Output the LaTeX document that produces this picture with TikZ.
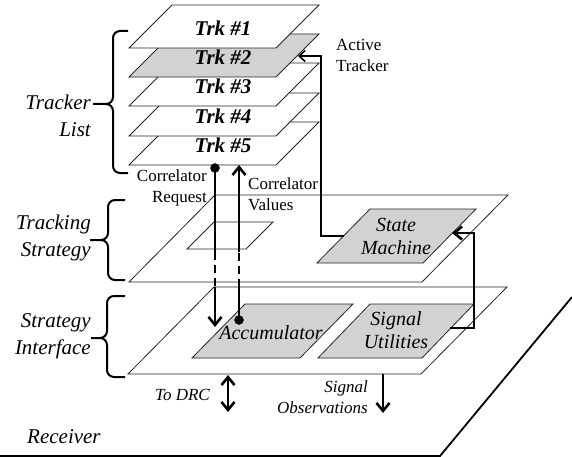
\documentclass[tikz,border=0pt]{standalone}
\usepackage{fontspec}
\setmainfont{Liberation Serif}
\usepackage{tikz}
\usetikzlibrary{positioning}
\usetikzlibrary{arrows.meta}

\begin{document}
\begin{tikzpicture}[x=1pt,y=-1pt,
	plane/.style={draw=black!85,line width=0.8pt,fill=white},
	block/.style={plane,fill=gray!35},
	brace/.style={line width=2pt,rounded corners=7pt},
	bus/.style={line width=2.6pt,line join=miter,-{Straight Barb[length=8pt,width=13pt]}},
	link/.style={line width=1.6pt,-{Straight Barb[length=6pt,width=11pt]}},
	gap/.style={line width=1.6pt,dash pattern=on 8pt off 5pt},
	trk/.style={font=\fontsize{21}{24}\selectfont\bfseries\itshape},
	boxlabel/.style={font=\fontsize{20}{23}\selectfont\itshape,align=center,inner sep=0pt},
	sidelabel/.style={font=\fontsize{21}{27}\selectfont\itshape,align=right,anchor=east,inner sep=0pt},
	note/.style={font=\fontsize{17}{21}\selectfont,inner sep=0pt},
	lowlabel/.style={font=\fontsize{17}{21}\selectfont\itshape,inner sep=0pt}]
	\useasboundingbox (0,0) rectangle (572,457);
	% Receiver %
	\node (receiver) [sidelabel,anchor=west] at (27,437) {Receiver};
	\draw [line width=1.8pt] (0,456) -- (440,456) -- (572,297);
	% Strategy Interface %
	\filldraw [plane] (128,374) -- ++(293,0) -- ++(86,-87) -- ++(-293,0) -- cycle;
	\filldraw [block] (192,358) -- ++(108,0) -- ++(53,-54) -- ++(-108,0) -- cycle;
	\filldraw [block] (318,358) -- ++(104,0) -- ++(52,-54) -- ++(-104,0) -- cycle;
	\node (accumulator) [boxlabel] at (271,333) {Accumulator};
	\node (utilities) [boxlabel] at (396,330) {Signal\\Utilities};
	% Tracking Strategy %
	\filldraw [plane] (129,282) -- ++(293,0) -- ++(86,-87) -- ++(-293,0) -- cycle;
	\filldraw [plane] (187,249) -- ++(59,0) -- ++(27,-27) -- ++(-59,0) -- cycle;
	\filldraw [block] (317,263) -- ++(106,0) -- ++(53,-54) -- ++(-106,0) -- cycle;
	\node (statemachine) [boxlabel] at (396,236) {State\\Machine};
	% Tracker List %
	\foreach \n/\yb/\shade in {5/165/white,4/136/white,3/106/white,2/77/gray!35,1/48/white}
		{\filldraw [plane,fill=\shade] (129,\yb) -- ++(147,0) -- ++(43,-43) -- ++(-147,0) -- cycle;
		 \node (trk\n) [trk] at (223,\yb-20) {Trk \#\n};}
	% Braces %
	\node (trackerlist) [sidelabel] at (91,116) {Tracker\\List};
	\draw [brace] (128,31) -- (113,31) -- (113,104) -- (93,104) (128,173) -- (113,173) -- (113,104) -- (93,104);
	\node (trackingstrategy) [sidelabel] at (91,238) {Tracking\\Strategy};
	\draw [brace] (125,200) -- (108,200) -- (108,240) -- (90,240) (125,280) -- (108,280) -- (108,240) -- (90,240);
	\node (strategyinterface) [sidelabel] at (91,336) {Strategy\\Interface};
	\draw [brace] (125,296) -- (107,296) -- (107,338) -- (91,338) (125,377) -- (107,377) -- (107,338) -- (91,338);
	% Correlator Request / Values %
	\coordinate (request) at (215,168);
	\coordinate (accin) at (215,327);
	\coordinate (values) at (239,320);
	\coordinate (trk5in) at (239,165);
	\coordinate (gaptop) at (0,252);
	\coordinate (gapbot) at (0,287);
	\draw [bus,-] (request) -- (request |- gaptop);
	\draw [gap] (request |- gaptop) -- (request |- gapbot);
	\draw [bus] (request |- gapbot) -- (accin);
	\filldraw (request) circle (4.5);
	\draw [bus,-] (values) -- (values |- gapbot);
	\draw [gap] (values |- gapbot) -- (values |- gaptop);
	\draw [bus] (values |- gaptop) -- (trk5in);
	\filldraw (values) circle (4.5);
	\node (reqlabel) [note,anchor=east,align=right] at (207,188) {Correlator\\Request};
	\node (vallabel) [note,anchor=west,align=left] at (248,194) {Correlator\\Values};
	% Active Tracker %
	\coordinate (smleft) at (344,236);
	\coordinate (atbend) at (321,56);
	\coordinate (trk2right) at (298,56);
	\draw [link] (smleft) -| (atbend) -- (trk2right);
	\node (activelabel) [note,anchor=west,align=left] at (336,55) {Active\\Tracker};
	% Utilities to State Machine %
	\coordinate (suright) at (450,328);
	\coordinate (loopbend) at (474,233);
	\coordinate (smright) at (452,233);
	\draw [bus] (suright) -| (loopbend) -- (smright);
	% To Receiver %
	\coordinate (drctop) at (228,375);
	\coordinate (drcbot) at (228,412);
	\draw [bus,{Straight Barb[length=8pt,width=13pt]}-{Straight Barb[length=8pt,width=13pt]}] (drctop) -- (drcbot);
	\node (drclabel) [lowlabel,anchor=east] at (210,395) {To DRC};
	\coordinate (obstop) at (383,374);
	\coordinate (obsbot) at (383,413);
	\draw [bus] (obstop) -- (obsbot);
	\node (obslabel) [lowlabel,anchor=east,align=right] at (368,397) {Signal\\Observations};
\end{tikzpicture}
\end{document}
